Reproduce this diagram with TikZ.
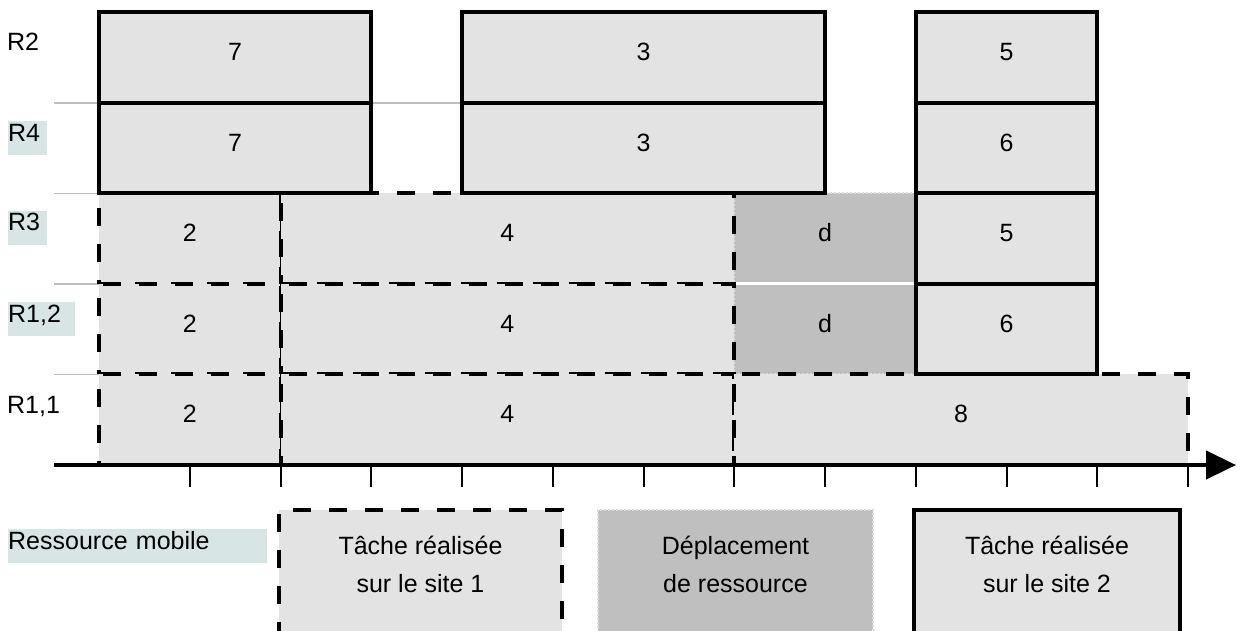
\documentclass[tikz,border=0pt]{standalone}
\usepackage{fontspec}
\setmainfont{Liberation Sans}
\usetikzlibrary{arrows.meta}

\definecolor{taskfill}{HTML}{E3E3E3}
\definecolor{movefill}{HTML}{BFBFBF}
\definecolor{labelbg}{HTML}{D7E6E5}
\definecolor{rulegray}{HTML}{BDBDBD}
\definecolor{movedge}{HTML}{DCDCDC}

% one cell block of the schedule: style, name, first column, last column, row, label
\newcommand\ganttslot[6]{%
  \node[#1, minimum width={90.75*((#4)-(#3))}, minimum height=90.52]
    (#2) at ({99+90.75*((#3)+(#4))/2},{12.4+90.52*((#5)+0.5)}) {#6};%
}

\begin{document}
\begin{tikzpicture}[x=1pt, y=-1pt,
  slot/.style={rectangle, inner sep=0pt, outer sep=0pt, text height=18pt, text depth=12pt,
               font=\fontsize{25}{30}\selectfont},
  siteone/.style={slot, fill=taskfill, draw=black, line width=4pt, dash pattern=on 18pt off 18pt},
  sitetwo/.style={slot, fill=taskfill, draw=black, line width=4pt},
  move/.style={slot, fill=movefill, draw=movedge, line width=2pt, dash pattern=on 2pt off 2pt},
  lab/.style={anchor=base west, inner sep=0pt, text height=20pt, text depth=14pt,
              font=\fontsize{25}{30}\selectfont, align=left},
  labbg/.style={lab, fill=labelbg, text width=#1},
  legtext/.style={inner sep=0pt, align=center, font=\fontsize{25}{38}\selectfont},
  gridrule/.style={rulegray, line width=1.5pt},
  tick/.style={line width=2pt}
]
\useasboundingbox (0,0) rectangle (1237,630);
\clip (0,0) rectangle (1237,630);

% resource row labels
\node[lab] (r2) at (7,50.5) {R2};
\node[labbg=39pt] (r4) at (8,141) {R4};
\node[labbg=39pt] (r3) at (8,230.5) {R3};
\node[labbg=67pt] (r12) at (8,322) {R1,2};
\node[lab] (r11) at (7,413) {R1,1};

% row separators
\draw[gridrule] (54,{12.4+90.52}) -- (463,{12.4+90.52});
\draw[gridrule] (54,{12.4+90.52*2}) -- (463,{12.4+90.52*2});
\draw[gridrule] (54,{12.4+90.52*3}) -- (99,{12.4+90.52*3});
\draw[gridrule] (54,{12.4+90.52*4}) -- (99,{12.4+90.52*4});

% resource moves
\ganttslot{move}{dA}{7}{9}{2}{d}
\ganttslot{move}{dB}{7}{9}{3}{d}
\draw[white, line width=3pt] (dA.south west) -- (dA.south east);

% tasks on site 1
\ganttslot{siteone}{aA}{0}{2}{2}{2}
\ganttslot{siteone}{bA}{2}{7}{2}{4}
\ganttslot{siteone}{aB}{0}{2}{3}{2}
\ganttslot{siteone}{bB}{2}{7}{3}{4}
\ganttslot{siteone}{aC}{0}{2}{4}{2}
\ganttslot{siteone}{bC}{2}{7}{4}{4}
\ganttslot{siteone}{cC}{7}{12}{4}{8}
\draw[line width=1pt] (aA.north east) -- (aC.south east);

% tasks on site 2
\ganttslot{sitetwo}{pA}{0}{3}{0}{7}
\ganttslot{sitetwo}{qA}{4}{8}{0}{3}
\ganttslot{sitetwo}{sA}{9}{11}{0}{5}
\ganttslot{sitetwo}{pB}{0}{3}{1}{7}
\ganttslot{sitetwo}{qB}{4}{8}{1}{3}
\ganttslot{sitetwo}{sB}{9}{11}{1}{6}
\ganttslot{sitetwo}{sC}{9}{11}{2}{5}
\ganttslot{sitetwo}{sD}{9}{11}{3}{6}

% time axis
\coordinate (axstart) at (54,465);
\coordinate (axend) at (1236,465);
\foreach \i in {1,...,12}
  \draw[tick] ({99+90.75*\i},465) -- ({99+90.75*\i},487);
\draw[line width=4.5pt, -{Triangle[length=30pt,width=28pt]}] (axstart) -- (axend);

% legend
\node[labbg=259pt] (mob) at (8,549) {Ressource mobile};
\node[siteone, minimum width=283, minimum height=150, anchor=north west] (leg1) at (279,510) {};
\node[move, minimum width=275, minimum height=150, anchor=north west] (leg2) at (598,510) {};
\node[sitetwo, minimum width=266, minimum height=150, anchor=north west] (leg3) at (914,510) {};
\node[legtext, anchor=north] (leg1t) at ([yshift=-20pt]leg1.north) {\rule{0pt}{24pt}Tâche réalisée\\sur le site 1};
\node[legtext, anchor=north] (leg2t) at ([yshift=-20pt]leg2.north) {\rule{0pt}{24pt}Déplacement\\de ressource};
\node[legtext, anchor=north] (leg3t) at ([yshift=-20pt]leg3.north) {\rule{0pt}{24pt}Tâche réalisée\\sur le site 2};
\end{tikzpicture}
\end{document}
